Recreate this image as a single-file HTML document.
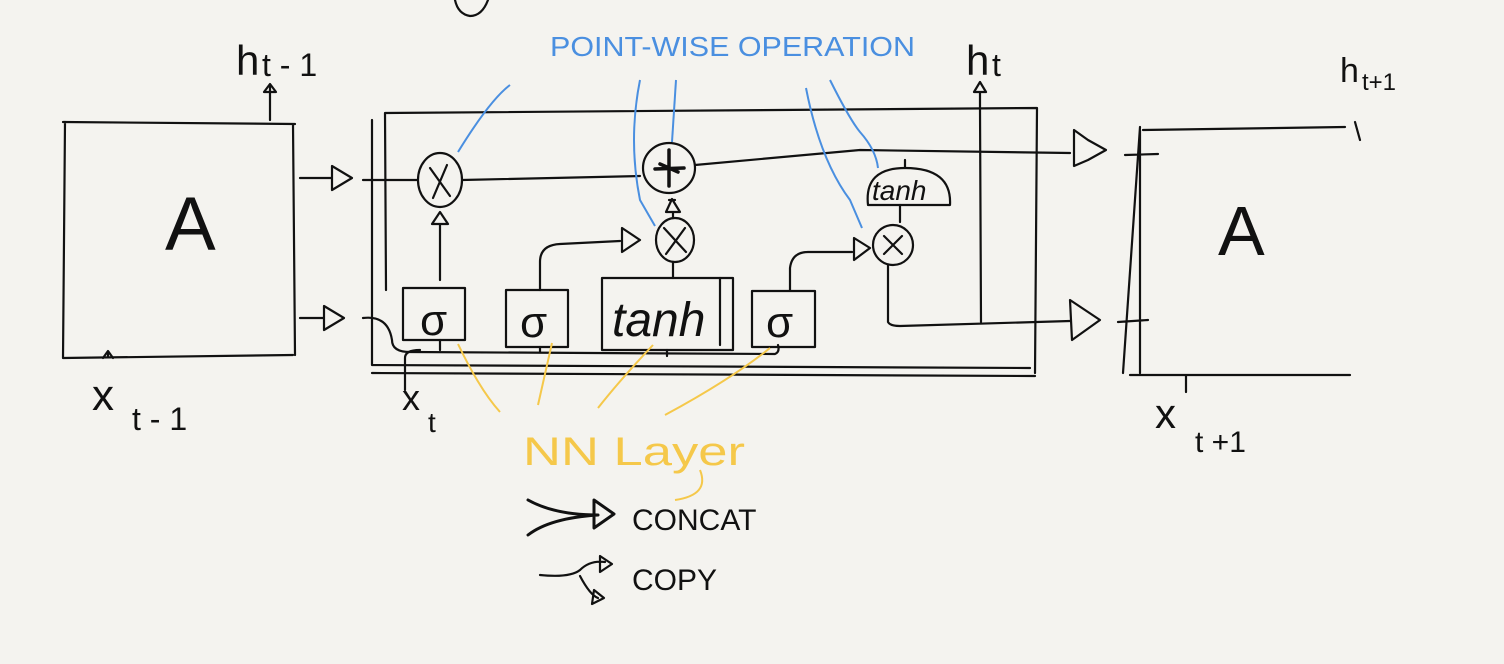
<!DOCTYPE html>
<html><head><style>
html,body{margin:0;padding:0;background:#f4f3ef;}
svg{display:block}
text{font-family:"Liberation Sans",sans-serif;}
</style></head><body>
<svg width="1504" height="664" viewBox="0 0 1504 664" xmlns="http://www.w3.org/2000/svg">
<rect width="1504" height="664" fill="#f4f3ef"/>
<g fill="none" stroke="#111" stroke-width="2.2" stroke-linecap="round" stroke-linejoin="round">
<path d="M455 0 Q458 14 470 16 Q482 16 488 0"/>
<path d="M63 122 L295 124 M65 122 L63 358 L293 355 M293 124 L295 355"/>
<path d="M270 120 L270 86 M264 92 L270 84 L276 92 Z"/>
<path d="M108 352 L108 356 M103 358 L108 351 L113 358"/>
<path d="M300 178 L332 178 M332 166 L352 178 L332 190 Z"/>
<path d="M300 318 L324 318 M324 306 L344 318 L324 330 Z"/>
<path d="M363 180 L418 180"/>
<path d="M385 113 L1037 108 L1035 373 M385 113 L386 290 M372 120 L372 365 L1030 368"/>
<path d="M372 373 L1035 376"/>
<path d="M980 108 L981 322 M974 92 L980 82 L986 92 Z M980 92 L980 108"/>
<ellipse cx="440" cy="180" rx="22" ry="27"/>
<path d="M430 168 L450 196 M447 165 L433 198"/>
<path d="M462 180 L640 176"/>
<ellipse cx="669" cy="168" rx="26" ry="25"/>
<path d="M669 150 L669 186 M655 169 L684 168 M660 164 L678 172" stroke-width="3.5"/>
<path d="M695 165 L860 150 L1070 153"/>
<ellipse cx="675" cy="240" rx="19" ry="22"/>
<path d="M664 228 L686 252 M685 228 L666 254"/>
<path d="M669 200 L675 200 M666 212 L672 199 L680 212 Z M673 212 L673 218"/>
<path d="M440 280 L440 225 M432 224 L440 212 L448 224 Z"/>
<path d="M868 205 Q864 168 905 168 Q952 168 950 205 Z"/>
<text x="872" y="200" font-size="28" stroke="none" fill="#111" font-style="italic">tanh</text>
<path d="M905 160 L905 168 M900 205 L900 222"/>
<circle cx="893" cy="245" r="20"/>
<path d="M884 236 L902 254 M902 236 L884 254"/>
<path d="M888 265 L888 322 Q890 326 900 326 L1070 321"/>
<rect x="403" y="288" width="62" height="52"/>
<rect x="506" y="290" width="62" height="57"/>
<rect x="602" y="278" width="131" height="72"/>
<path d="M720 278 L720 345"/>
<rect x="752" y="291" width="63" height="56"/>
<path d="M540 290 L540 262 Q540 245 560 244 L620 241 M622 228 L640 240 L622 252 Z"/>
<path d="M790 290 L790 268 Q792 252 808 252 L852 252 M854 238 L870 248 L854 260 Z"/>
<path d="M673 262 L673 278"/>
<path d="M363 318 Q388 315 392 340 Q392 352 410 352 L775 354 Q780 352 778 345"/>
<path d="M440 340 L440 350 M540 347 L540 352 M667 350 L667 356"/>
<path d="M405 390 L405 358 Q405 350 420 350"/>
<path d="M1074 130 L1088 140 L1106 150 L1088 160 L1074 166 Z"/>
<path d="M1070 300 L1100 320 L1072 340 Z"/>
<path d="M1143 130 L1345 127 M1355 122 L1360 140 M1140 127 L1123 373 M1140 130 L1140 373 M1130 375 L1350 375 M1125 155 L1158 154 M1118 322 L1148 320 M1186 376 L1186 392"/>
<path d="M528 500 Q555 515 598 515 M528 535 Q550 518 598 515 M594 500 L614 514 L594 528 Z" stroke-width="3"/>
<path d="M540 575 Q570 578 580 570 Q590 560 605 562 M580 576 Q590 595 598 598 M600 556 L612 564 L600 572 Z M594 590 L604 598 L592 604 Z"/>
</g>
<g fill="#111" stroke="none">
<text x="165" y="250" font-size="76" font-weight="300">A</text>
<text x="1218" y="255" font-size="70" font-weight="300">A</text>
<text x="236" y="75" font-size="42">h</text><text x="262" y="76" font-size="32">t - 1</text>
<text x="966" y="75" font-size="42">h</text><text x="992" y="76" font-size="32">t</text>
<text x="1340" y="82" font-size="34">h</text><text x="1362" y="90" font-size="24">t+1</text>
<text x="92" y="410" font-size="44">x</text><text x="132" y="430" font-size="32">t - 1</text>
<text x="402" y="410" font-size="36">x</text><text x="428" y="432" font-size="28">t</text>
<text x="1155" y="428" font-size="42">x</text><text x="1195" y="452" font-size="30">t +1</text>
<text x="420" y="335" font-size="44">σ</text>
<text x="520" y="337" font-size="44">σ</text>
<text x="766" y="337" font-size="44">σ</text>
<text x="612" y="336" font-size="48" font-style="italic">tanh</text>
<text x="632" y="530" font-size="30">CONCAT</text>
<text x="632" y="590" font-size="30">COPY</text>
<text x="550" y="56" font-size="28" fill="#4a8fe0" textLength="365" lengthAdjust="spacingAndGlyphs">POINT-WISE OPERATION</text>
<text x="523" y="465" font-size="40" fill="#f5c84a" textLength="222" lengthAdjust="spacingAndGlyphs">NN Layer</text>
</g>
<g fill="none" stroke="#4a8fe0" stroke-width="2">
<path d="M458 152 Q490 100 510 85"/>
<path d="M640 80 Q628 140 640 200 L655 226"/>
<path d="M676 80 L672 142"/>
<path d="M806 88 Q820 160 850 200 L862 228"/>
<path d="M830 80 Q850 120 860 132 Q876 150 878 168"/>
</g>
<g fill="none" stroke="#f5c84a" stroke-width="2">
<path d="M458 344 Q480 390 500 412"/>
<path d="M552 343 L538 405"/>
<path d="M653 345 Q620 380 598 408"/>
<path d="M770 348 Q730 380 665 415"/>
<path d="M700 470 Q710 495 675 500"/>
</g>
</svg>
</body></html>
